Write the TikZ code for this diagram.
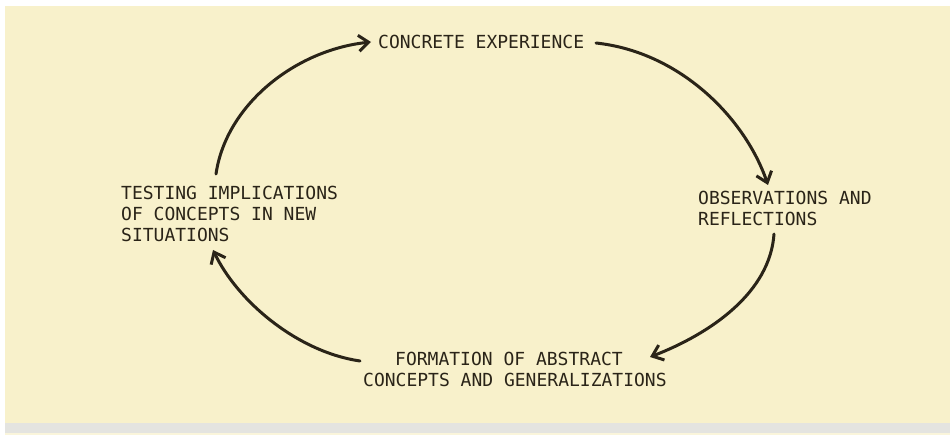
\documentclass[tikz,border=0pt]{standalone}
\usepackage{fontspec}
\setmonofont{DejaVu Sans Mono}
\usetikzlibrary{arrows.meta}
\definecolor{paper}{RGB}{248,241,203}
\definecolor{strip}{RGB}{228,228,224}
\definecolor{ink}{RGB}{42,36,24}
\tikzset{
  lbl/.style={font=\ttfamily\fontsize{18}{21}\selectfont, text=ink, inner sep=0pt, align=left, anchor=base west},
  cyc/.style={draw=ink, line width=3pt, line cap=round, -{Straight Barb[length=10pt,width=16pt,line width=3pt]}}
}
\begin{document}
\begin{tikzpicture}[x=1pt,y=-1pt]
\useasboundingbox (0,0) rectangle (950,435);
\fill[white] (0,0) rectangle (950,435);
\fill[paper] (5,6) rectangle (950,423);
\fill[strip] (5,423) rectangle (950,433);
\fill[paper!70!white] (5,433) rectangle (950,435);

\node[lbl] (conc) at (378,48.5) {CONCRETE EXPERIENCE};
\node[lbl] (obs) at (698,225.5) {OBSERVATIONS AND\\REFLECTIONS};
\node[lbl] (form) at (363,386.5) {\hspace*{32pt}FORMATION OF ABSTRACT\\CONCEPTS AND GENERALIZATIONS};
\node[lbl] (test) at (121,242) {TESTING IMPLICATIONS\\OF CONCEPTS IN NEW\\SITUATIONS};

\coordinate (c1s) at (216,174);
\coordinate (c1e) at (371,42);
\coordinate (c2s) at (596,43);
\coordinate (c2e) at (768,185);
\coordinate (c3s) at (774,234);
\coordinate (c3e) at (650,357);
\coordinate (c4s) at (360,361);
\coordinate (c4e) at (213,250);

\draw[cyc] (c1s) .. controls (226,105) and (295,50) .. (c1e);
\draw[cyc] (c2s) .. controls (680,52) and (745,118) .. (c2e);
\draw[cyc] (c3s) .. controls (770,292) and (712,333) .. (c3e);
\draw[cyc] (c4s) .. controls (298,352) and (238,302) .. (c4e);
\end{tikzpicture}
\end{document}
